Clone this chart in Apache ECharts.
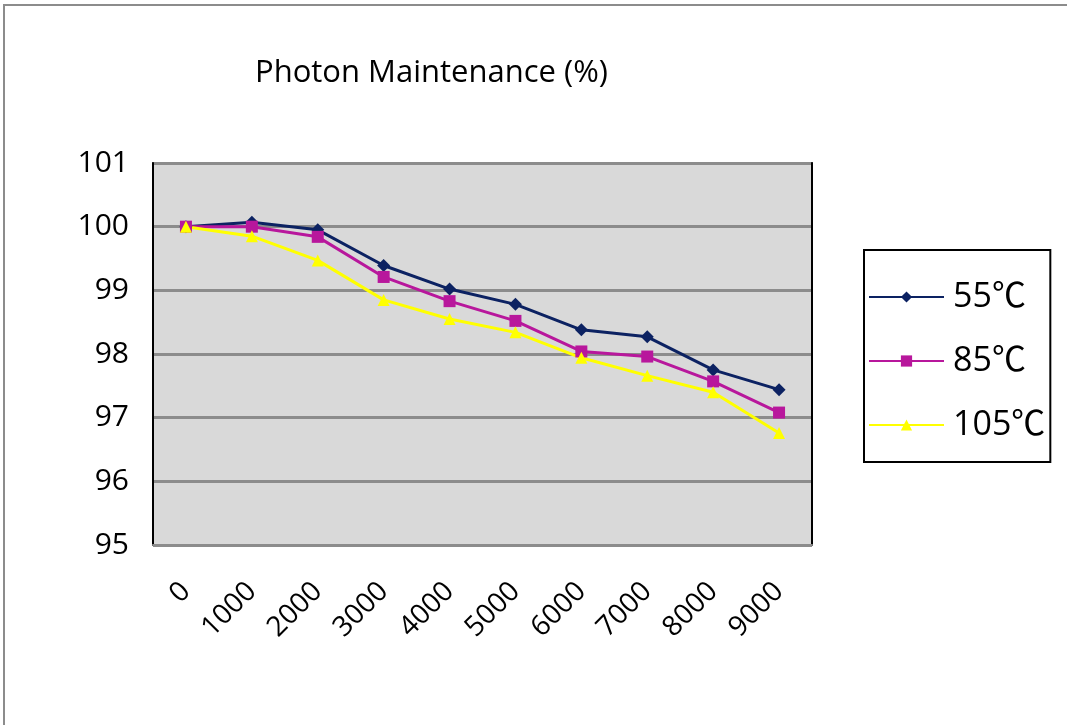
<!DOCTYPE html>
<html>
<head>
<meta charset="utf-8">
<script src="https://cdn.jsdelivr.net/npm/echarts@6/dist/echarts.min.js"></script>
<style>
	html, body { margin: 0; padding: 0; background: #fff; }
	#chart {
		position: absolute;
		left: 3px;
		top: 4px;
		width: 1064px;
		height: 721px;
		border-left: 2px solid #8c8c8c;
		border-top: 2px solid #8c8c8c;
		box-sizing: border-box;
	}
</style>
</head>
<body>
<div id="chart"></div>
<script>
let hours = ['0', '1000', '2000', '3000', '4000', '5000', '6000', '7000', '8000', '9000'];
let temp55 = [100, 100.07, 99.95, 99.39, 99.02, 98.78, 98.38, 98.27, 97.75, 97.44];
let temp85 = [100, 100.0, 99.84, 99.21, 98.83, 98.52, 98.04, 97.96, 97.57, 97.08];
let temp105 = [100, 99.85, 99.47, 98.85, 98.55, 98.34, 97.94, 97.66, 97.40, 96.76];

let font = '"Open Sans", "Noto Sans CJK SC", sans-serif';

let chart = echarts.init(document.getElementById('chart'));

let line = (name, data, color, symbol, size) => ({
	name,
	type: 'line',
	data,
	color,
	symbol,
	symbolSize: size,
	lineStyle: {width: 3, color},
	itemStyle: {color},
	animation: false,
});

chart.setOption({
	backgroundColor: '#fff',
	textStyle: {fontFamily: font},
	title: {
		text: 'Photon Maintenance (%)',
		left: 245,
		top: 47,
		textStyle: {fontSize: 31, fontWeight: 'normal', color: '#000', fontFamily: font},
	},
	legend: {
		orient: 'vertical',
		left: 859,
		top: 244,
		itemWidth: 75,
		itemHeight: 14,
		itemGap: 30,
		padding: [30, 5, 20, 4],
		borderColor: '#000',
		borderWidth: 2,
		textStyle: {fontSize: 34, color: '#000', fontFamily: font, padding: [0, 0, 0, 4]},
		data: ['55℃', '85℃', '105℃'],
	},
	grid: {
		left: 148,
		top: 157,
		width: 659,
		height: 382,
		show: true,
		backgroundColor: '#d9d9d9',
		borderColor: '#8c8c8c',
		borderWidth: 2,
	},
	xAxis: {
		type: 'category',
		data: hours,
		boundaryGap: true,
		axisLine: {lineStyle: {color: '#8c8c8c', width: 2}},
		axisTick: {show: false},
		axisLabel: {
			rotate: 45,
			margin: 42,
			fontSize: 28,
			color: '#000',
			fontFamily: font,
			interval: 0,
		},
	},
	yAxis: [{
		type: 'value',
		min: 95,
		max: 101,
		interval: 1,
		axisLine: {show: true, lineStyle: {color: '#000', width: 2}},
		axisTick: {show: false},
		splitLine: {lineStyle: {color: '#8c8c8c', width: 3}},
		axisLabel: {fontSize: 30, color: '#000', margin: 24, fontFamily: font},
	}, {
		type: 'value',
		position: 'right',
		min: 95,
		max: 101,
		interval: 1,
		axisLine: {show: true, lineStyle: {color: '#000', width: 2}},
		axisTick: {show: false},
		axisLabel: {show: false},
		splitLine: {show: false},
	}],
	series: [
		line('55℃', temp55, '#0c2262', 'diamond', 13),
		line('85℃', temp85, '#b8179c', 'rect', 12),
		line('105℃', temp105, '#ffff00', 'triangle', 12),
	],
});
</script>
</body>
</html>
